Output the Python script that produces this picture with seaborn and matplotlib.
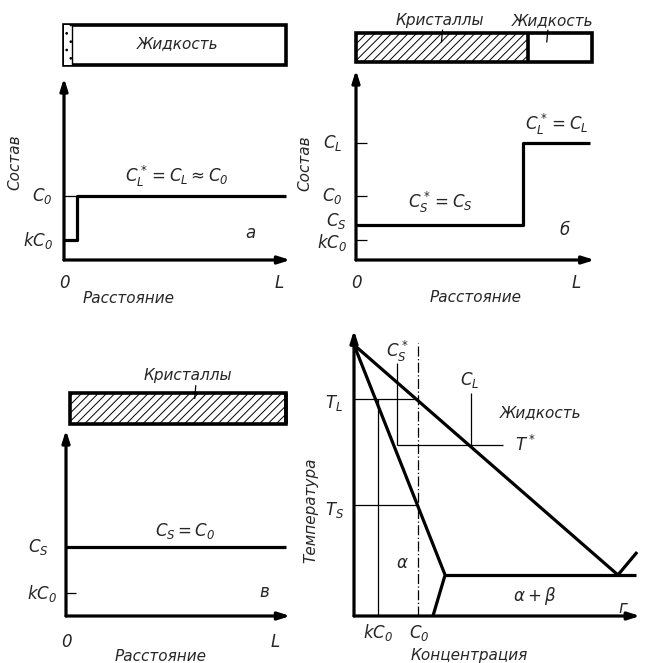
import matplotlib
matplotlib.use("Agg")
import matplotlib.pyplot as plt
from matplotlib.patches import Rectangle
import seaborn as sns
import numpy as np

sns.set_style("white")
plt.rcParams['font.family'] = ['DejaVu Sans']
plt.rcParams['font.style'] = 'italic'
plt.rcParams['mathtext.fontset'] = 'dejavusans'
plt.rcParams['hatch.linewidth'] = 0.7

# ---------------- data ----------------
# concentration levels (in units of C0)
C0 = 1.0
kC0 = 0.31
CS_b = 0.55
CL_b = 1.83
CS_v = 1.0

# panel a: profile along distance (0..L)
a_x = [0.0, 0.06, 0.06, 1.0]
a_y = [kC0, kC0, C0, C0]
# panel б
b_x = [0.0, 0.715, 0.715, 1.0]
b_y = [CS_b, CS_b, CL_b, CL_b]
b_cryst_end = 0.735
# panel в
v_x = [0.0, 1.0]
v_y = [CS_v, CS_v]

# panel г: phase diagram (concentration 0..100, temperature 0..100)
liq_x = [0.0, 93.6]
liq_y = [95.8, 14.5]
sol_x = [0.0, 32.3, 28.0]
sol_y = [95.8, 14.5, 0.0]
eut_x = [32.3, 100.0]
eut_y = [14.5, 14.5]
tail_x = [93.6, 100.4]
tail_y = [14.5, 22.6]
T_L, T_S, T_star = 76.7, 39.2, 60.4
g_kC0, g_C0, g_CSs, g_CL = 8.5, 22.7, 15.2, 41.5

W, H = 645, 663
fig = plt.figure(figsize=(W / 100, H / 100), dpi=100)
fig.patch.set_facecolor('white')

THICK = 2.3
THIN = 0.9
FS = 11
MFS = 12


def panel(x0, ytop, x1, ybot, xlim, ylim):
    ax = fig.add_axes([x0 / W, 1 - ybot / H, (x1 - x0) / W, (ybot - ytop) / H])
    ax.set_xlim(*xlim)
    ax.set_ylim(*ylim)
    ax.axis('off')
    return ax


def line(ax, x, y, lw=THICK, ls='-'):
    sns.lineplot(x=x, y=y, ax=ax, sort=False, estimator=None, color='black',
                 lw=lw, ls=ls, legend=False)
    for l in ax.lines:
        l.set_clip_on(False)
        l.set_solid_capstyle('butt')


def arrow(ax, start, end, lw=THICK):
    ax.annotate('', xy=end, xytext=start,
                arrowprops=dict(arrowstyle='-|>,head_length=0.7,head_width=0.22',
                                lw=lw, color='black', shrinkA=0, shrinkB=0),
                annotation_clip=False)


def txt(ax, x, y, s, size=FS, **kw):
    ax.text(x, y, s, fontsize=size, ha=kw.pop('ha', 'center'), va=kw.pop('va', 'center'),
            clip_on=False, **kw)


def box(ax, x0, y0, w, h, hatch_end=None, lw=2.6):
    if hatch_end is not None and hatch_end > x0:
        ax.add_patch(Rectangle((x0, y0), hatch_end - x0, h, facecolor='white',
                               edgecolor='black', hatch='////', lw=0, clip_on=False))
        ax.plot([hatch_end, hatch_end], [y0, y0 + h], color='black', lw=lw, clip_on=False)
    ax.add_patch(Rectangle((x0, y0), w, h, fill=False, edgecolor='black', lw=lw,
                           clip_on=False))


# ---------------- panel a ----------------
axa = panel(64, 78, 286, 260, (0, 1), (0, 2.84))
box(axa, 0, 3.05, 1.0, 0.62)
axa.add_patch(Rectangle((0, 3.05), 0.036, 0.62, facecolor='white', edgecolor='black',
                        hatch='..', lw=0, clip_on=False))
axa.plot([0.036, 0.036], [3.05, 3.67], color='black', lw=1.0, clip_on=False)
txt(axa, 0.51, 3.37, 'Жидкость')
arrow(axa, (0, 0), (1.02, 0))
arrow(axa, (0, 0), (0, 2.84))
axa.plot([0, 0.06], [C0, C0], color='black', lw=THIN)
line(axa, a_x, a_y)
txt(axa, -0.22, 1.52, 'Состав', rotation=90)
txt(axa, -0.05, C0, r'$C_0$', size=MFS, ha='right')
txt(axa, -0.05, kC0, r'$kC_0$', size=MFS, ha='right')
txt(axa, 0.0, -0.36, '0', size=MFS)
txt(axa, 0.97, -0.36, r'$L$', size=MFS)
txt(axa, 0.29, -0.6, 'Расстояние')
txt(axa, 0.51, 1.3, r'$C_L^* = C_L \approx C_0$', size=MFS)
txt(axa, 0.84, 0.42, 'а', size=MFS)

# ---------------- panel б ----------------
axb = panel(356, 70, 590, 260, (0, 1), (0, 2.97))
box(axb, 0, 3.09, 1.01, 0.46, hatch_end=b_cryst_end)
txt(axb, 0.36, 3.74, 'Кристаллы')
txt(axb, 0.84, 3.74, 'Жидкость')
axb.plot([0.37, 0.365], [3.6, 3.4], color='black', lw=THIN, clip_on=False)
axb.plot([0.82, 0.815], [3.6, 3.4], color='black', lw=THIN, clip_on=False)
arrow(axb, (0, 0), (1.02, 0))
arrow(axb, (0, 0), (0, 2.97))
for lev in (CL_b, C0, kC0):
    axb.plot([0, 0.045], [lev, lev], color='black', lw=THIN)
line(axb, b_x, b_y)
txt(axb, -0.218, 1.52, 'Состав', rotation=90)
txt(axb, -0.06, CL_b, r'$C_L$', size=MFS, ha='right')
txt(axb, -0.06, C0, r'$C_0$', size=MFS, ha='right')
txt(axb, -0.04, CS_b + 0.06, r'$C_S$', size=MFS, ha='right')
txt(axb, -0.04, kC0 - 0.03, r'$kC_0$', size=MFS, ha='right')
txt(axb, 0.0, -0.36, '0', size=MFS)
txt(axb, 0.94, -0.36, r'$L$', size=MFS)
txt(axb, 0.51, -0.58, 'Расстояние')
txt(axb, 0.86, 2.12, r'$C_L^* = C_L$', size=MFS)
txt(axb, 0.36, 0.9, r'$C_S^* = C_S$', size=MFS)
txt(axb, 0.89, 0.47, 'б', size=MFS)

# ---------------- panel в ----------------
axv = panel(66, 430, 286, 616, (0, 1), (0, 2.7))
box(axv, 0.018, 2.78, 0.982, 0.46, hatch_end=1.0)
txt(axv, 0.555, 3.49, 'Кристаллы')
axv.plot([0.59, 0.585], [3.35, 3.15], color='black', lw=THIN, clip_on=False)
arrow(axv, (0, 0), (1.02, 0))
arrow(axv, (0, 0), (0, 2.7))
axv.plot([0, 0.045], [kC0 + 0.02, kC0 + 0.02], color='black', lw=THIN)
line(axv, v_x, v_y)
txt(axv, -0.08, CS_v, r'$C_S$', size=MFS, ha='right')
txt(axv, -0.04, kC0 + 0.02, r'$kC_0$', size=MFS, ha='right')
txt(axv, 0.0, -0.38, '0', size=MFS)
txt(axv, 0.95, -0.38, r'$L$', size=MFS)
txt(axv, 0.43, -0.59, 'Расстояние')
txt(axv, 0.54, 1.24, r'$C_S = C_0$', size=MFS)
txt(axv, 0.9, 0.35, 'в', size=MFS)

# ---------------- panel г ----------------
axg = panel(354, 333, 636, 616, (0, 100), (0, 100))
arrow(axg, (0, 0), (101.5, 0))
arrow(axg, (0, 0), (0, 101))
# thin guide lines
axg.plot([0, g_C0], [T_L, T_L], color='black', lw=THIN)
axg.plot([0, g_C0], [T_S, T_S], color='black', lw=THIN)
axg.plot([g_CSs, 52.8], [T_star, T_star], color='black', lw=THIN)
axg.plot([g_CSs, g_CSs], [T_star, 89.4], color='black', lw=THIN)
axg.plot([g_CL, g_CL], [T_star, 78.8], color='black', lw=THIN)
axg.plot([g_kC0, g_kC0], [0, T_L], color='black', lw=THIN)
axg.plot([g_C0, g_C0], [0, 96.5], color='black', lw=THIN, ls=(0, (8, 2, 1, 2)))
line(axg, liq_x, liq_y)
line(axg, sol_x, sol_y)
line(axg, eut_x, eut_y)
line(axg, tail_x, tail_y)
txt(axg, -7, 75.3, r'$T_L$', size=MFS)
txt(axg, -7, 37.5, r'$T_S$', size=MFS)
txt(axg, 15.2, 93.5, r'$C_S^*$', size=MFS)
txt(axg, 41, 83.4, r'$C_L$', size=MFS)
txt(axg, 66, 71.7, 'Жидкость')
txt(axg, 61, 60.6, r'$T^*$', size=MFS)
txt(axg, 17, 18.7, r'$\alpha$', size=MFS)
txt(axg, 64, 7, r'$\alpha + \beta$', size=MFS)
txt(axg, 95.4, 3, 'г', size=MFS)
txt(axg, 8.5, -5.9, r'$kC_0$', size=MFS)
txt(axg, 23, -5.9, r'$C_0$', size=MFS)
txt(axg, 41, -13.8, 'Концентрация')
txt(axg, -15.2, 37.5, 'Температура', rotation=90)

fig.savefig('out.png', dpi=100, facecolor='white')
